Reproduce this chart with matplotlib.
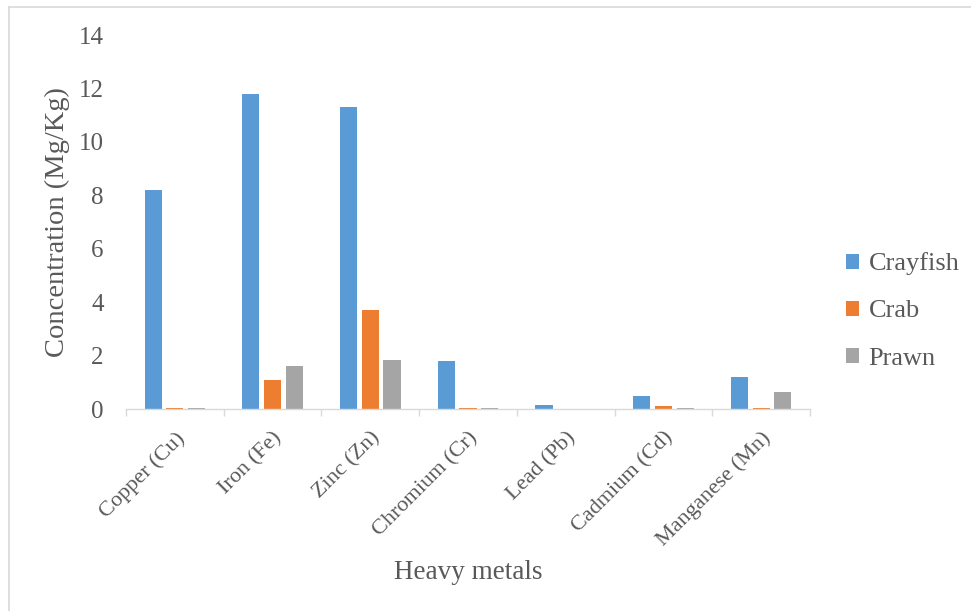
import matplotlib
matplotlib.use("Agg")
import matplotlib.pyplot as plt
from matplotlib.lines import Line2D
from matplotlib.ticker import FixedLocator
from matplotlib.transforms import ScaledTranslation
import numpy as np

plt.rcParams['font.family'] = ['Liberation Serif', 'DejaVu Serif']

metals = ["Copper (Cu)", "Iron (Fe)", "Zinc (Zn)", "Chromium (Cr)",
          "Lead (Pb)", "Cadmium (Cd)", "Manganese (Mn)"]
crayfish = [8.2, 11.8, 11.3, 1.8, 0.15, 0.5, 1.2]
crab = [0.05, 1.1, 3.7, 0.05, 0.0, 0.1, 0.03]
prawn = [0.04, 1.62, 1.83, 0.02, 0.0, 0.03, 0.65]
series_names = ["Crayfish", "Crab", "Prawn"]
colors = ["#5B9BD5", "#ED7D31", "#A5A5A5"]
y_ticks = [0, 2, 4, 6, 8, 10, 12, 14]

text_col = "#595959"
fig = plt.figure(figsize=(9.71, 6.11), dpi=100)
ax = fig.add_axes([126/971, 1-409/611, (810-126)/971, (409-35)/611])

x = np.arange(len(metals))
width = 0.175
offset = 0.222
for i, (vals, name, c) in enumerate(zip([crayfish, crab, prawn], series_names, colors)):
    ax.bar(x + (i-1)*offset, vals, width, color=c, label=name, linewidth=0)

ax.set_xlim(-0.5, len(metals)-0.5)
ax.set_ylim(0, 14)
ax.set_yticks(y_ticks)
ax.set_yticklabels([str(t) for t in y_ticks])
ax.set_xticks(x)
ax.set_xticklabels(metals, rotation=45, ha='right', va='top', rotation_mode='anchor')
ax.xaxis.set_minor_locator(FixedLocator(np.arange(-0.5, len(metals), 1.0)))
shift = ScaledTranslation(-5/100, 0, fig.dpi_scale_trans)
for lab in ax.get_xticklabels():
    lab.set_transform(lab.get_transform() + shift)

for s in ['left', 'right', 'top']:
    ax.spines[s].set_visible(False)
ax.spines['bottom'].set_color('#D9D9D9')
ax.spines['bottom'].set_linewidth(1.0)

ax.tick_params(axis='y', length=0, pad=16, labelsize=18, labelcolor=text_col)
ax.tick_params(axis='x', which='major', length=0, pad=14, labelsize=16, labelcolor=text_col)
ax.tick_params(axis='x', which='minor', length=5, width=1, color='#D9D9D9')

ax.set_ylabel("Concentration (Mg/Kg)", fontsize=20.5, color=text_col)
ax.yaxis.set_label_coords(-0.082, 0.5)
ax.set_xlabel("Heavy metals", fontsize=19.5, color=text_col)
ax.xaxis.set_label_coords(0.5, -(560-409)/374)

leg = ax.legend(loc='center left', bbox_to_anchor=(846/971, 1-311/611),
                bbox_transform=fig.transFigure, frameon=False, fontsize=19,
                handlelength=0.5, handleheight=0.5, handletextpad=0.35,
                labelspacing=0.95, borderpad=0, borderaxespad=0)
for t in leg.get_texts():
    t.set_color(text_col)

# chart-area border (top and left edges visible)
fig.add_artist(Line2D([9/971, 1.0], [1-7/611, 1-7/611], transform=fig.transFigure,
                      color='#D9D9D9', lw=1.2))
fig.add_artist(Line2D([9/971, 9/971], [0, 1-7/611], transform=fig.transFigure,
                      color='#D9D9D9', lw=1.2))

fig.savefig("out.png", dpi=100)
